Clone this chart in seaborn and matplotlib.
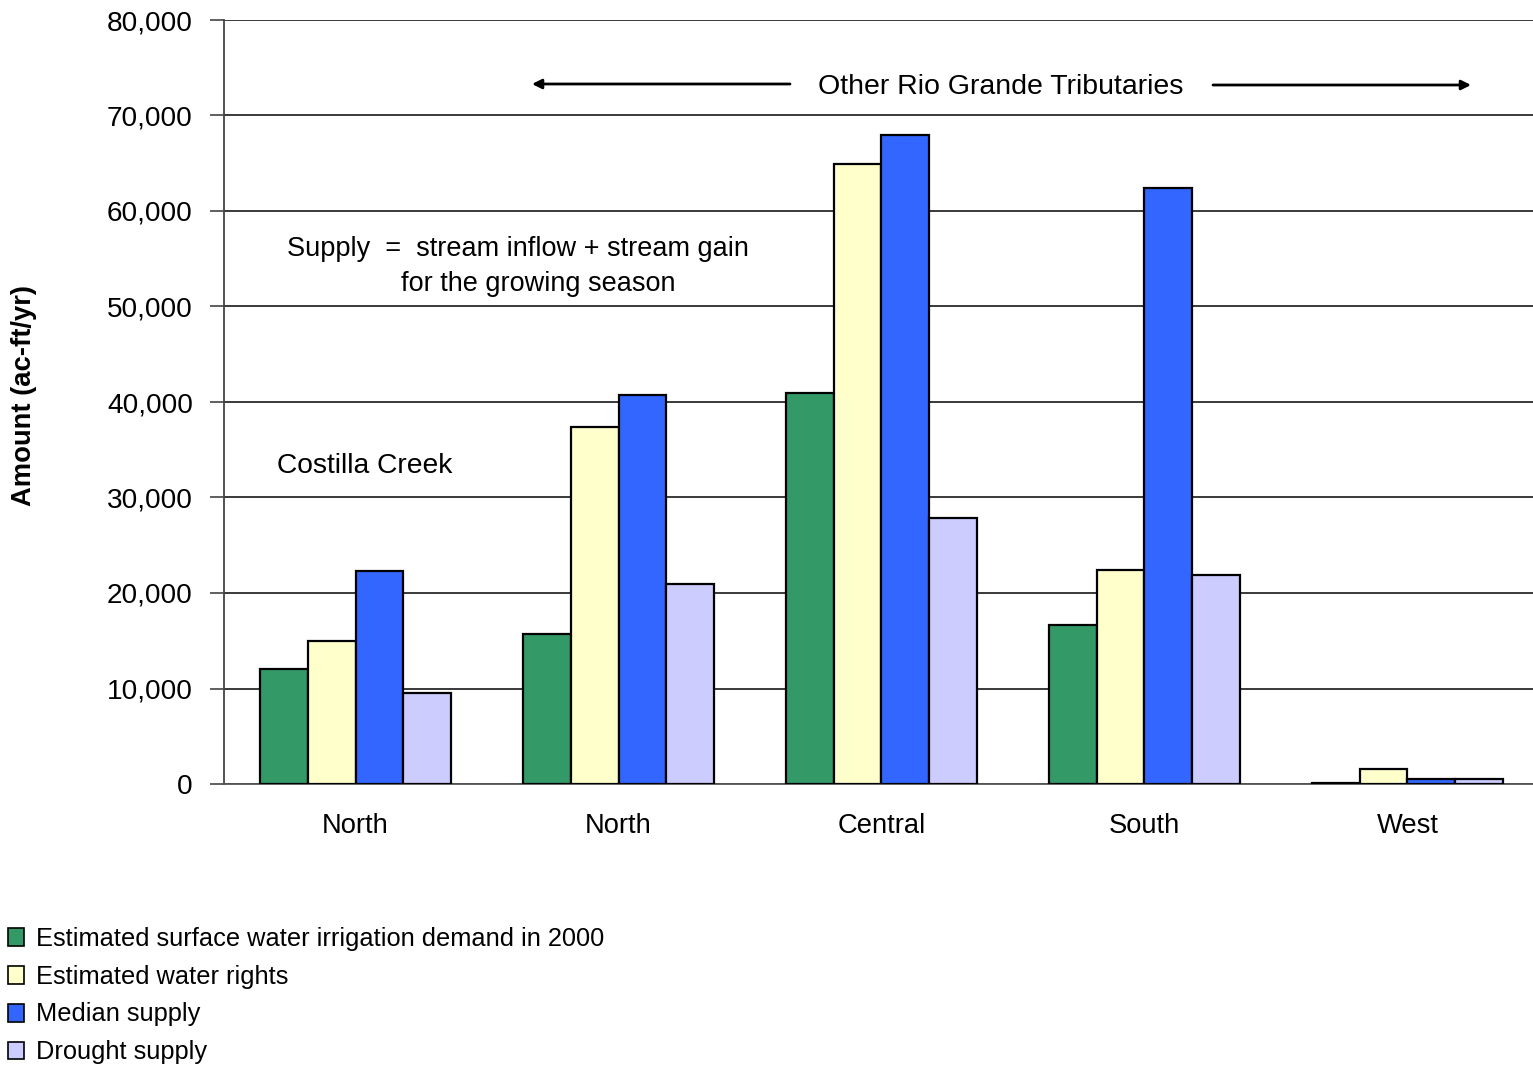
import matplotlib
matplotlib.use("Agg")
import matplotlib.pyplot as plt
from matplotlib.patches import Patch
import seaborn as sns
import pandas as pd

# Regions (unique keys) and the labels printed under each group
regions = ["Costilla North", "North", "Central", "South", "West"]
region_labels = ["North", "North", "Central", "South", "West"]

series_names = [
    "Estimated surface water irrigation demand in 2000",
    "Estimated water rights",
    "Median supply",
    "Drought supply",
]
demand_2000 = [12000, 15700, 40900, 16600, 150]
water_rights = [15000, 37400, 64900, 22400, 1600]
median_supply = [22300, 40700, 68000, 62400, 550]
drought_supply = [9500, 20900, 27900, 21900, 500]

colors = ["#339966", "#FFFFCC", "#3366FF", "#CCCCFF"]
y_ticks = [0, 10000, 20000, 30000, 40000, 50000, 60000, 70000, 80000]

rows = []
for name, vals in zip(series_names, [demand_2000, water_rights, median_supply, drought_supply]):
    for reg, v in zip(regions, vals):
        rows.append({"Region": reg, "Series": name, "Amount": v})
df = pd.DataFrame(rows)

sns.set_style("white")
plt.rcParams["font.family"] = ["Liberation Sans", "DejaVu Sans"]
plt.rcParams["text.color"] = "black"
plt.rcParams["axes.labelcolor"] = "black"
plt.rcParams["xtick.color"] = "black"
plt.rcParams["ytick.color"] = "black"

fig = plt.figure(figsize=(15.33, 10.65), dpi=100)
ax = fig.add_axes([224 / 1533, 1 - 784 / 1065, 1315 / 1533, 764 / 1065])

sns.barplot(
    data=df, x="Region", y="Amount", hue="Series",
    order=regions, hue_order=series_names, palette=colors,
    width=0.727, edgecolor="black", linewidth=1.6, saturation=1,
    legend=False, ax=ax, zorder=3,
)

ax.set_xlim(-0.5, 4.5)
ax.set_ylim(0, 80000)
ax.set_yticks(y_ticks)
ax.set_yticklabels([f"{t:,}" for t in y_ticks], fontsize=20.2)
ax.set_xticks(range(len(regions)))
ax.set_xticklabels(region_labels, fontsize=19.7)
ax.set_xticks([i - 0.5 for i in range(len(regions) + 1)], minor=True)
ax.tick_params(axis="x", which="major", length=0, pad=21)
ax.tick_params(axis="x", which="minor", length=8, width=1.2, color="#444444", direction="out")
ax.tick_params(axis="y", length=10, width=1.2, color="#444444", direction="out", pad=12.5, left=True)
ax.set_xlabel("")
ax.set_ylabel("Amount (ac-ft/yr)", fontsize=19.7, fontweight="bold")
ax.yaxis.set_label_coords((37 - 224) / 1315, (784 - 395) / 764)

ax.grid(axis="y", color="#2a2a2a", linewidth=1.3, zorder=0)
ax.set_axisbelow(True)
for side in ["top", "right"]:
    ax.spines[side].set_visible(False)
ax.spines["left"].set_color("#444444")
ax.spines["left"].set_linewidth(1.3)
ax.spines["bottom"].set_color("#555555")
ax.spines["bottom"].set_linewidth(1.3)


def px_to_x(px):
    return (px - 224) / 263 - 0.5


def px_to_y(py):
    return (784 - py) / 764 * 80000


ax.text(px_to_x(365), px_to_y(466), "Costilla Creek", fontsize=20.3, ha="center", va="center")
ax.text(px_to_x(518), px_to_y(249), "Supply  =  stream inflow + stream gain", fontsize=19.5,
        ha="center", va="center")
ax.text(px_to_x(538), px_to_y(284), "for the growing season", fontsize=19.5, ha="center", va="center")
ax.text(px_to_x(1001), px_to_y(87), "Other Rio Grande Tributaries", fontsize=20.5, ha="center", va="center")

arrow_style = dict(arrowstyle="-|>", color="black", lw=2.0, mutation_scale=14, shrinkA=0, shrinkB=0)
ax.annotate("", xy=(px_to_x(532), px_to_y(84)), xytext=(px_to_x(790), px_to_y(84)),
            arrowprops=arrow_style, annotation_clip=False)
ax.annotate("", xy=(px_to_x(1471), px_to_y(85)), xytext=(px_to_x(1213), px_to_y(85)),
            arrowprops=arrow_style, annotation_clip=False)

handles = [Patch(facecolor=c, edgecolor="black", linewidth=1.2) for c in colors]
fig.legend(handles, series_names, loc="upper left", bbox_to_anchor=(5 / 1533, 1 - 924 / 1065),
           frameon=False, fontsize=18.3, handlelength=0.65, handleheight=0.7,
           handletextpad=0.45, labelspacing=0.55, borderaxespad=0, borderpad=0.1)

fig.savefig("out.png", dpi=100)
